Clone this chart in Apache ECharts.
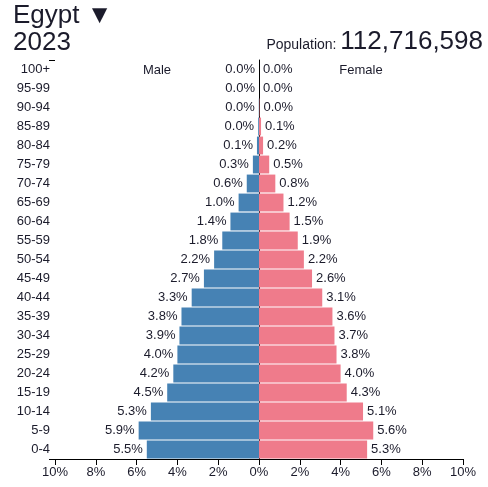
<!DOCTYPE html>
<html><head><meta charset="utf-8">
<script src="https://cdn.jsdelivr.net/npm/echarts@6/dist/echarts.min.js"></script>
<style>html,body{margin:0;padding:0;background:#fff}#c{width:488px;height:487px}</style>
</head><body><div id="c"></div>
<script>
var ageGroups = ['0-4','5-9','10-14','15-19','20-24','25-29','30-34','35-39','40-44','45-49','50-54','55-59','60-64','65-69','70-74','75-79','80-84','85-89','90-94','95-99','100+'];
var maleValues = [5.5,5.9,5.3,4.5,4.2,4.0,3.9,3.8,3.3,2.7,2.2,1.8,1.4,1.0,0.6,0.3,0.1,0.04,0.01,0.0,0.0];
var femaleValues = [5.3,5.6,5.1,4.3,4.0,3.8,3.7,3.6,3.1,2.6,2.2,1.9,1.5,1.2,0.8,0.5,0.2,0.1,0.02,0.0,0.0];
var xTicks = [-10,-8,-6,-4,-2,0,2,4,6,8,10];
var country = 'Egypt';
var year = '2023';
var population = '112,716,598';

var FONT = '"Liberation Sans", Arial, sans-serif';
var TXT = '#1b1b2b';
var chart = echarts.init(document.getElementById('c'));
var fmt = function(p){ return Math.abs(p.value).toFixed(1) + '%'; };
chart.setOption({
  animation: false,
  textStyle: {fontFamily: FONT},
  title: [
    {text: country + ' \u25BC', left: 13, top: 3, padding: 0, textStyle: {fontFamily: FONT, fontSize: 26, fontWeight: 'normal', color: TXT}},
    {text: year, left: 13, top: 30, padding: 0, textStyle: {fontFamily: FONT, fontSize: 26, fontWeight: 'normal', color: TXT}},
    {text: '{a|Population: }{b|' + population + '}', right: 5, top: 29, padding: 0, textStyle: {fontWeight: 'normal', rich: {
      a: {fontFamily: FONT, fontSize: 14, fontWeight: 'normal', color: TXT, verticalAlign: 'bottom', padding: [0,0,3,0]},
      b: {fontFamily: FONT, fontSize: 26, fontWeight: 'normal', color: TXT, verticalAlign: 'bottom'}}}},
    {text: 'Male', left: 157, top: 64, padding: 0, textAlign: 'center', textStyle: {fontFamily: FONT, fontSize: 13, fontWeight: 'normal', color: TXT}},
    {text: 'Female', left: 361, top: 64, padding: 0, textAlign: 'center', textStyle: {fontFamily: FONT, fontSize: 13, fontWeight: 'normal', color: TXT}}
  ],
  grid: {left: 55, right: 25, top: 60, bottom: 28},
  xAxis: {
    type: 'value', min: -10, max: 10, interval: 2,
    axisLine: {show: true, lineStyle: {color: '#000', width: 1}},
    axisTick: {show: true, length: 6, lineStyle: {color: '#000'}},
    splitLine: {show: false},
    axisLabel: {color: TXT, fontSize: 13, fontFamily: FONT, margin: 7,
      formatter: function(v){ return Math.abs(v) + '%'; }}
  },
  yAxis: [{
    type: 'category', data: ageGroups,
    axisLine: {show: true, lineStyle: {color: '#000', width: 1}},
    axisTick: {show: false},
    axisLabel: {color: TXT, fontSize: 13, fontFamily: FONT, margin: 5}
  }, {
    type: 'value', min: 0, max: 1, interval: 1, position: 'left',
    axisLine: {show: false},
    axisTick: {show: true, length: 6, lineStyle: {color: '#000'}},
    axisLabel: {show: false},
    splitLine: {show: false}
  }],
  series: [
    {name: 'Male', type: 'bar', stack: 'p', barCategoryGap: '6%',
      data: maleValues.map(function(v){ return -v; }),
      itemStyle: {color: '#4682b4'},
      label: {show: true, position: 'left', distance: 4, color: TXT, fontSize: 13, fontFamily: FONT, formatter: fmt}},
    {name: 'Female', type: 'bar', stack: 'p', barCategoryGap: '6%',
      data: femaleValues,
      itemStyle: {color: '#ef7b8b'},
      label: {show: true, position: 'right', distance: 4, color: TXT, fontSize: 13, fontFamily: FONT, formatter: fmt}}
  ]
});
</script></body></html>
